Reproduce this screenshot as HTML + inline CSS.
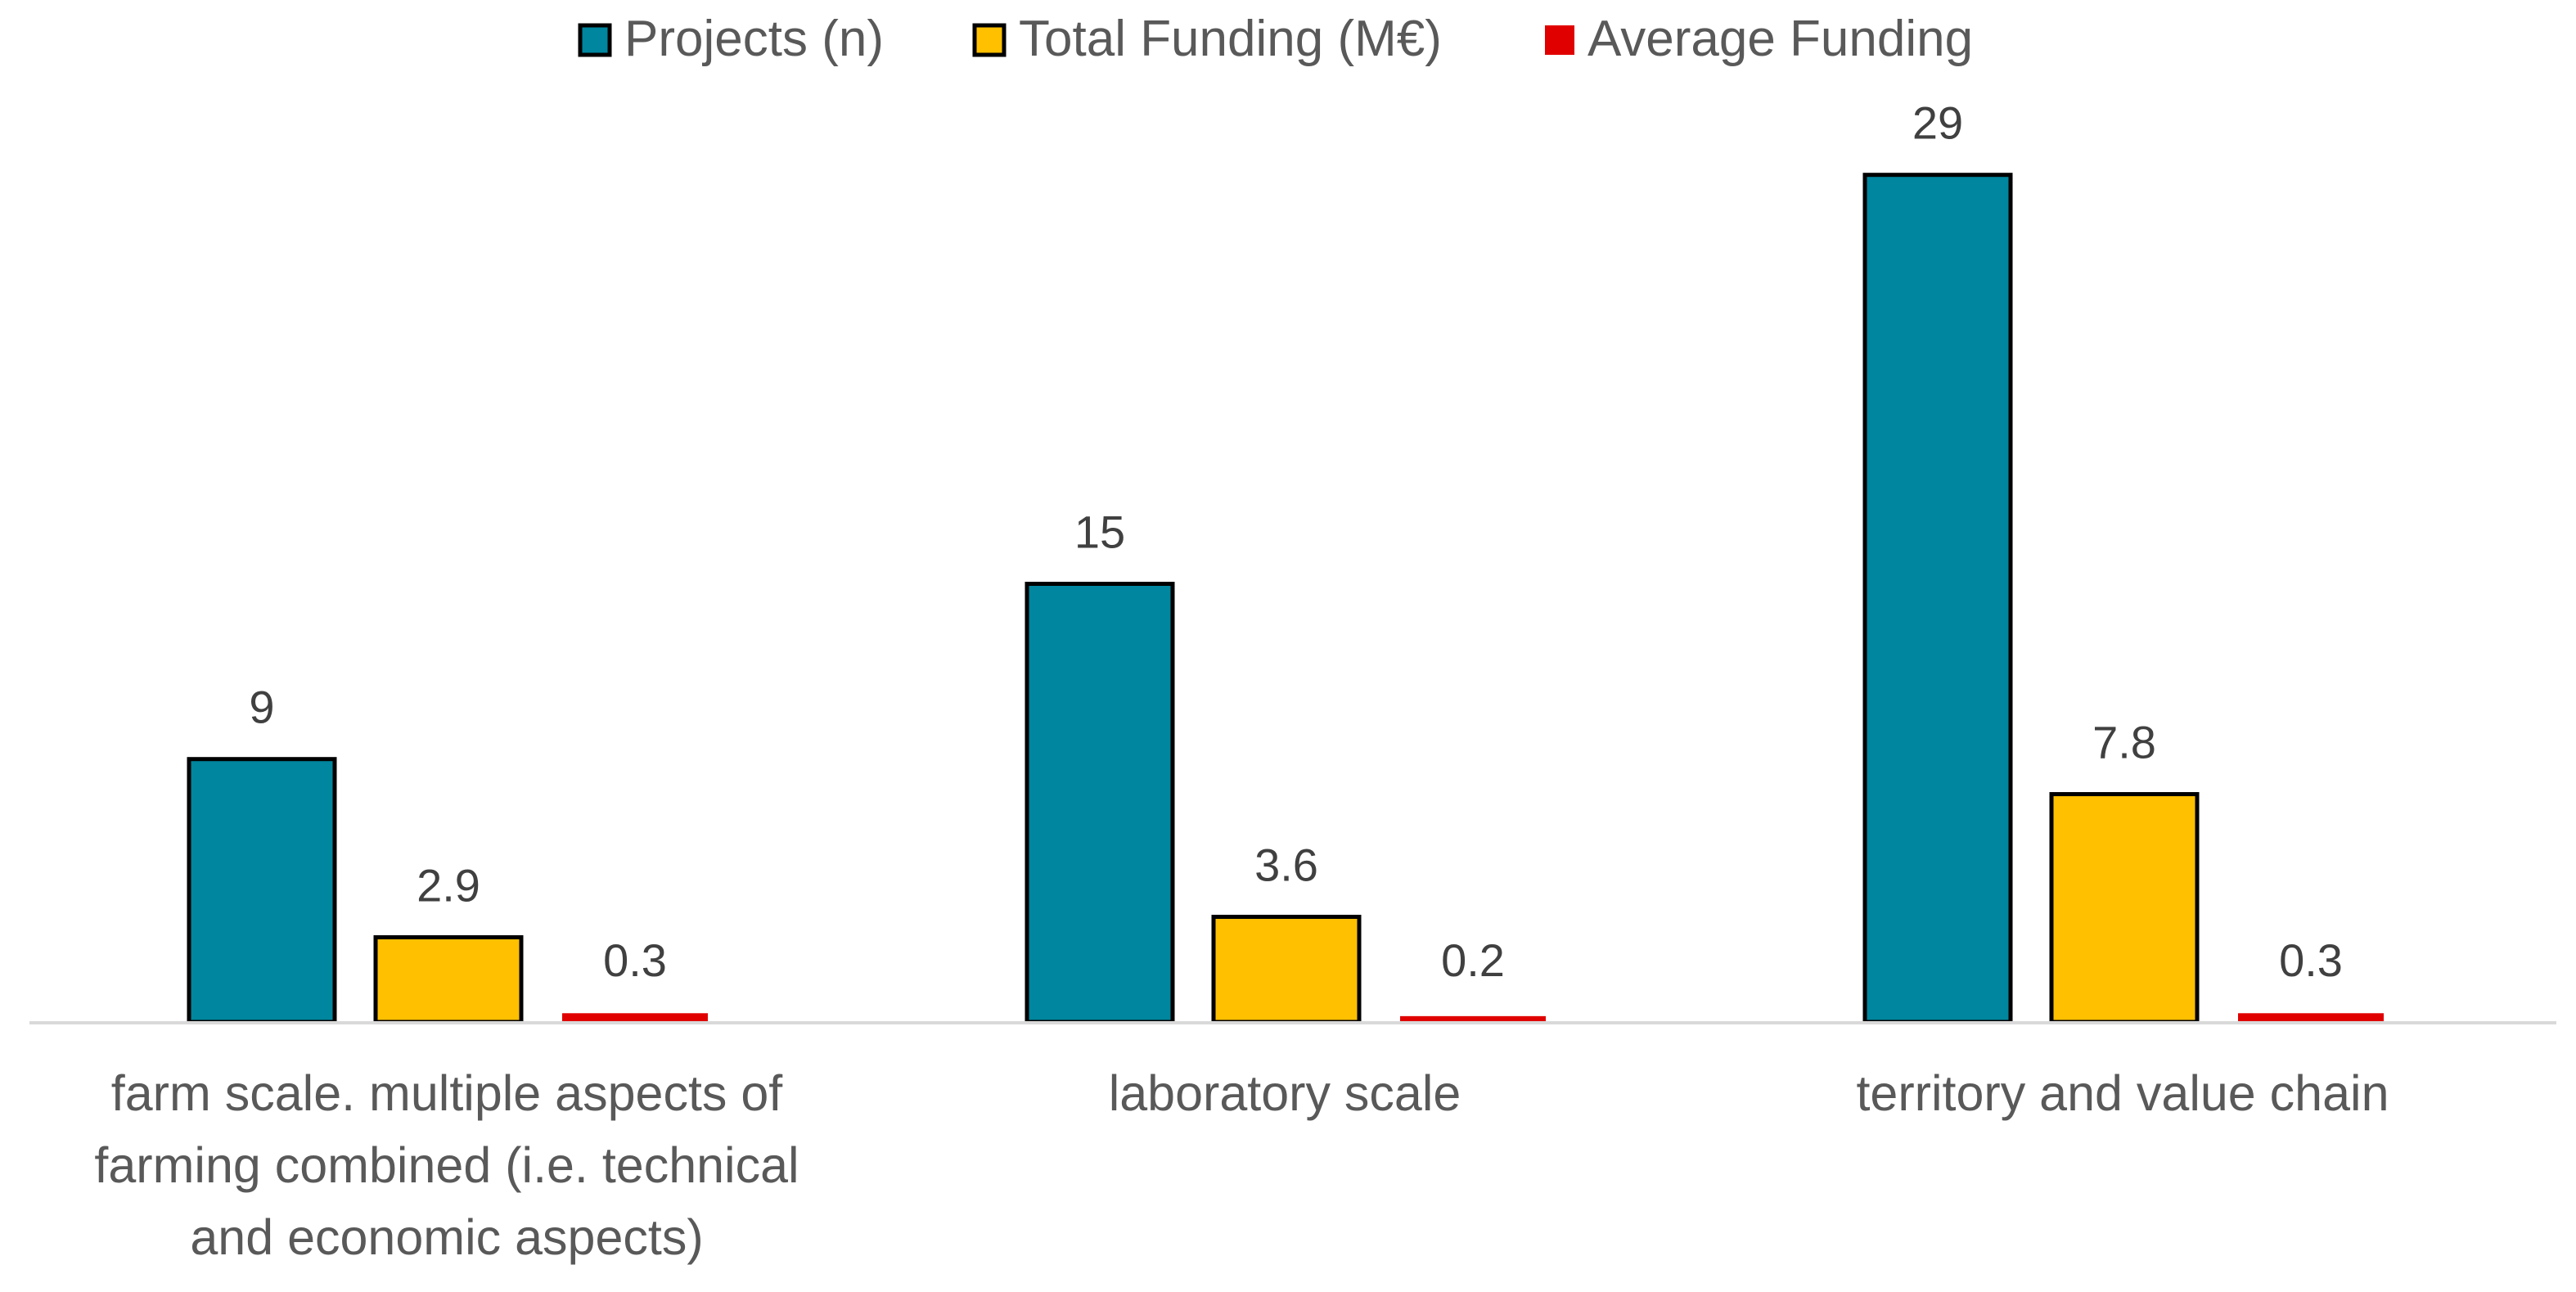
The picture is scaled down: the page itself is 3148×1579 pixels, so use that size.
<!DOCTYPE html>
<html><head><meta charset="utf-8"><style>
html,body{margin:0;padding:0;background:#fff;}
svg{display:block;font-family:"Liberation Sans",sans-serif;}
</style></head><body>
<svg id="chart" width="3148" height="1579" viewBox="0 0 3148 1579">
<g id="legend">
 <rect x="709" y="31" width="36" height="36" fill="#00869E" stroke="#000" stroke-width="5"/>
 <text x="763" y="68" font-size="62" fill="#595959">Projects (n)</text>
 <rect x="1191" y="31" width="36" height="36" fill="#FFC000" stroke="#000" stroke-width="5"/>
 <text x="1245" y="68" font-size="62" fill="#595959">Total Funding (M€)</text>
 <rect x="1888" y="31" width="36" height="36" fill="#E00000"/>
 <text x="1940" y="68" font-size="62" fill="#595959">Average Funding</text>
</g>
<g id="bars"></g>
<line x1="36" y1="1250" x2="3124" y2="1250" stroke="#D9D9D9" stroke-width="4"/>
<g id="cats"></g>
</svg>
<script>
const categories = [["farm scale. multiple aspects of","farming combined (i.e. technical","and economic aspects)"],["laboratory scale"],["territory and value chain"]];
const projects = [9, 15, 29];
const totalFunding = [2.9, 3.6, 7.8];
const averageFunding = [0.3, 0.2, 0.3];
const labelsProjects = ["9","15","29"];
const labelsTotal = ["2.9","3.6","7.8"];
const labelsAverage = ["0.3","0.2","0.3"];

const NS = "http://www.w3.org/2000/svg";
const baseY = 1249, pxPerUnit = 35.7;
const y = v => baseY - v * pxPerUnit;
const groupCenter = i => 548 + i * 1024;
const barW = 178;
const bars = document.getElementById('bars');
const cats = document.getElementById('cats');
function mk(tag, attrs, parent){const e=document.createElementNS(NS,tag);for(const k in attrs)e.setAttribute(k,attrs[k]);parent.appendChild(e);return e;}
const series = [
 {vals: projects, labels: labelsProjects, off:-317, fill:"#00869E", stroke:true, name:"projects"},
 {vals: totalFunding, labels: labelsTotal, off:-89, fill:"#FFC000", stroke:true, name:"total-funding"},
 {vals: averageFunding, labels: labelsAverage, off:139, fill:"#E00000", stroke:false, name:"average-funding"}
];
series.forEach(s=>{
 s.vals.forEach((v,i)=>{
  const x = groupCenter(i) + s.off;
  const top = y(v);
  const h = baseY - top;
  let r;
  if (s.stroke) {
   r = mk('rect',{x:x,y:top,width:barW,height:h,fill:s.fill,stroke:"#000","stroke-width":5},bars);
  } else {
   r = mk('rect',{x:x,y:top,width:barW,height:Math.max(h,8),fill:s.fill},bars);
  }
  
  
  const t = mk('text',{x:x+barW/2,y:Math.min(top,baseY-12)-44,"font-size":56,fill:"#404040","text-anchor":"middle"},bars);
  t.textContent = s.labels[i];
  
  
 });
});
categories.forEach((lines,i)=>{
 lines.forEach((ln,j)=>{
  const t = mk('text',{x:groupCenter(i)-2,y:1357+j*88,"font-size":61,fill:"#595959","text-anchor":"middle"},cats);
  t.textContent = ln;
  
  
 });
});
</script>
</body></html>
